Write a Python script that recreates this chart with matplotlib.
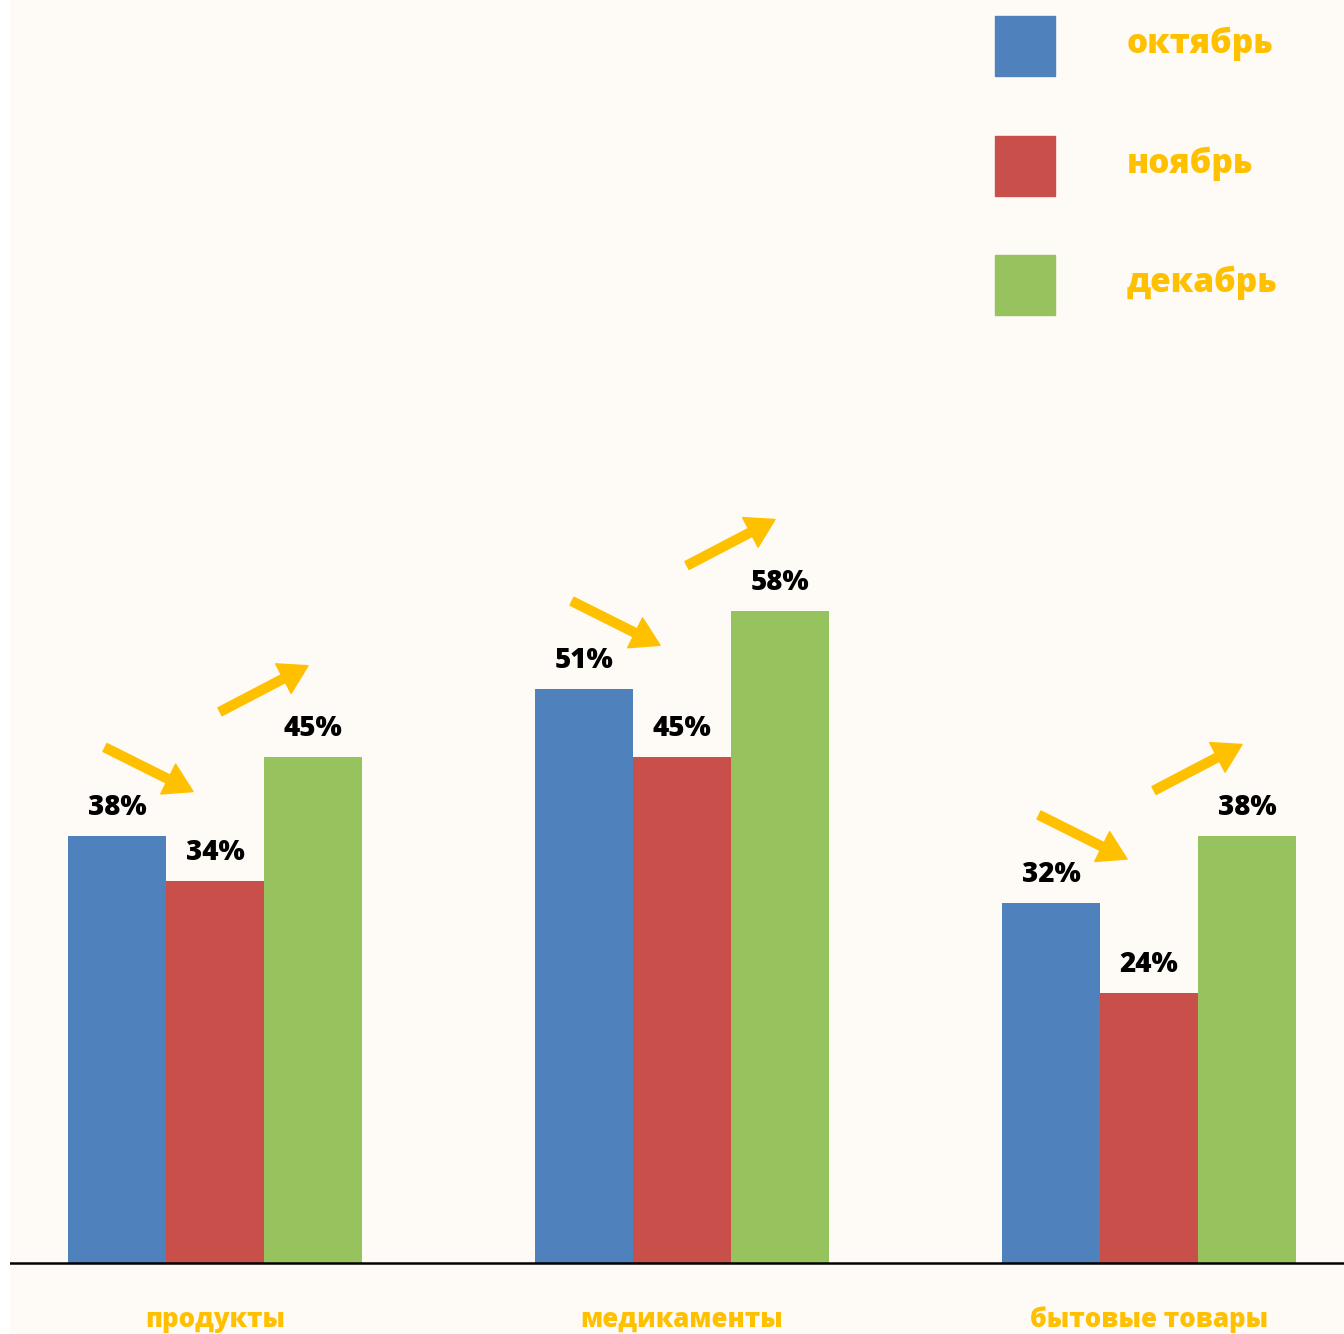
import numpy as np
import matplotlib
matplotlib.use('Agg')
import matplotlib.pyplot as plt
from matplotlib.patches import Rectangle

plt.rcParams['font.family'] = ['Open Sans', 'DejaVu Sans']

# Data
categories = ['продукты', 'медикаменты', 'бытовые товары']
months = ['октябрь', 'ноябрь', 'декабрь']
october = [38, 51, 32]
november = [34, 45, 24]
december = [45, 58, 38]

colors = ['#4F81BD', '#C9504A', '#97C35E']
orange = '#FFC000'
bg = '#FEFAF5'

W, H = 1344, 1334
fig = plt.figure(figsize=(W / 100, H / 100), dpi=100, facecolor='white')
ax = fig.add_axes([10 / W, 0, 1 - 10 / W, 1])
ax.set_facecolor(bg)

px_per_unit_x = 467.0
px_per_pct = 11.25
base_px = 1263          # baseline, px from top
ax.set_xlim((10 - 215) / px_per_unit_x, (W - 215) / px_per_unit_x)
ax.set_ylim(-(H - base_px) / px_per_pct, base_px / px_per_pct)
for s in ax.spines.values():
    s.set_visible(False)
ax.set_xticks([])
ax.set_yticks([])

x = np.arange(len(categories))
width = 98 / px_per_unit_x
series = [october, november, december]
for i, (vals, col) in enumerate(zip(series, colors)):
    bars = ax.bar(x + (i - 1) * width, vals, width, color=col, zorder=2)
    for b, v in zip(bars, vals):
        ax.annotate(f'{v}%', (b.get_x() + b.get_width() / 2, v),
                    xytext=(0, 10), textcoords='offset points',
                    ha='center', va='bottom', fontsize=20, fontweight=800,
                    color='black')

ax.axhline(0, color='black', lw=1.8, zorder=3)

# category labels under the baseline
for xi, cat in zip(x, categories):
    ax.text(xi, -(1320 - base_px) / px_per_pct, cat, ha='center', va='center',
            fontsize=18.5, fontweight=800, color=orange)

# trend arrows
arrow_kw = dict(arrowstyle='simple,head_length=1.0,head_width=1.2,tail_width=0.32',
                mutation_scale=20, color=orange, shrinkA=0, shrinkB=0)
dx_px = 1 / px_per_unit_x
for xi, o, d in zip(x, october, december):
    ax.annotate('', xy=(xi - 22 * dx_px, o + 44 / px_per_pct),
                xytext=(xi - 110 * dx_px, o + 88 / px_per_pct),
                arrowprops=arrow_kw, zorder=4)
    ax.annotate('', xy=(xi + 93 * dx_px, d + 91 / px_per_pct),
                xytext=(xi + 5 * dx_px, d + 45 / px_per_pct),
                arrowprops=arrow_kw, zorder=4)

# legend on the top right
for k, (m, col) in enumerate(zip(months, colors)):
    top = [16, 136, 255][k]
    fig.patches.append(Rectangle((995 / W, 1 - (top + 60) / H), 60 / W, 60 / H,
                                 transform=fig.transFigure, color=col))
    fig.text(1127 / W, 1 - (top + 28) / H, m, ha='left', va='center',
             fontsize=24, fontweight=800, color=orange)

fig.savefig('out.png', dpi=100, facecolor='white')
